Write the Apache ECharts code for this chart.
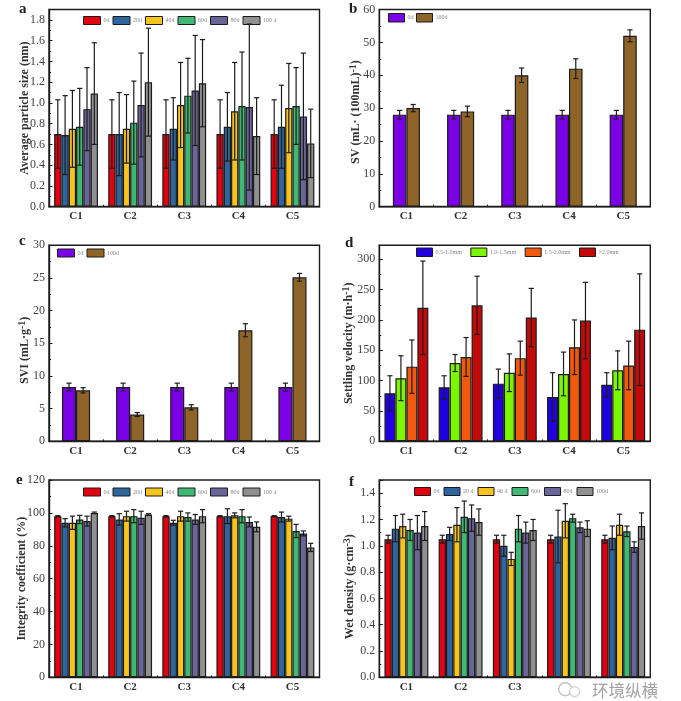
<!DOCTYPE html>
<html>
<head>
<meta charset="utf-8">
<title>Sludge properties</title>
<script src="https://cdn.jsdelivr.net/npm/echarts@6/dist/echarts.min.js"></script>
<style>
html,body{margin:0;padding:0;background:#fff;}
#chart{width:681px;height:701px;}
</style>
</head>
<body>
<div id="chart"></div>
<script>
const cats=['C1','C2','C3','C4','C5'];
// C4 and C5 of panel f are hidden under the watermark in the source
const catsF=['C1','C2','C3','',''];

// one row per series, one value per category
const aNames=['0d','20d','40d','60d','80d','100 d'];
const aMeans=[
    [0.70,0.70,0.70,0.70,0.70],
    [0.69,0.70,0.75,0.77,0.77],
    [0.75,0.75,0.98,0.92,0.95],
    [0.77,0.81,1.07,0.97,0.97],
    [0.94,0.98,1.12,0.96,0.87],
    [1.09,1.20,1.19,0.68,0.61]
];
const aErrs=[
    [0.33,0.33,0.33,0.33,0.33],
    [0.38,0.40,0.30,0.33,0.40],
    [0.37,0.33,0.41,0.47,0.43],
    [0.37,0.40,0.36,0.52,0.37],
    [0.40,0.50,0.53,0.80,0.61],
    [0.49,0.52,0.42,0.37,0.33]
];

const bNames=['0d','100d'];
const bMeans=[
    [28,28,28,28,28],
    [30,29,40,42,52]
];
const bErrs=[
    [1.3,1.3,1.3,1.3,1.3],
    [1.1,1.6,2.2,3,1.8]
];

const cNames=['0d','100d'];
const cMeans=[
    [8.3,8.3,8.3,8.3,8.3],
    [7.8,4.1,5.2,17,25.1]
];
const cErrs=[
    [0.6,0.6,0.6,0.6,0.6],
    [0.4,0.3,0.4,1.0,0.6]
];

const dNames=['0.5-1.0mm','1.0-1.5mm','1.5-2.0mm','>2.0mm'];
const dMeans=[
    [79,89,95,73,93],
    [104,129,113,111,117],
    [123,139,137,155,125],
    [220,224,204,199,184]
];
const dErrs=[
    [29,19,24,40,20],
    [37,14,31,36,32],
    [44,32,28,45,40],
    [77,48,48,63,92]
];

const eNames=['0d','20d','40d','60d','80d','100 d'];
const eMeans=[
    [98,98,98,98,98],
    [94,96,94,98,97.5],
    [94,98,98,98.5,96.5],
    [96,98,97.5,98,89],
    [95,97,96,94.5,87.5],
    [100,99,98,91.5,79]
];
const eErrs=[
    [0.3,0.3,0.3,0.3,0.3],
    [2.5,3.5,1.5,4.5,3],
    [4,3,3,1.5,1.5],
    [2.5,4,2.5,4,4],
    [3,4,3,3,1.5],
    [0.5,0.5,4,3,2.5]
];

const fNames=['0d','20 d','40 d','60d','80d','100d'];
const fMeans=[
    [1.05,1.05,1.05,1.05,1.05],
    [1.13,1.09,1.00,1.07,1.06],
    [1.15,1.16,0.90,1.19,1.16],
    [1.12,1.22,1.13,1.21,1.11],
    [1.10,1.21,1.10,1.14,0.99],
    [1.15,1.18,1.12,1.13,1.15]
];
const fErrs=[
    [0.03,0.03,0.03,0.03,0.03],
    [0.10,0.05,0.08,0.20,0.09],
    [0.09,0.13,0.05,0.13,0.08],
    [0.08,0.12,0.10,0.03,0.04],
    [0.13,0.10,0.08,0.04,0.04],
    [0.11,0.10,0.08,0.06,0.10]
];

const sixColors=['#e3000f','#2f659f','#f7c31e','#3fb873','#6a6599','#909090'];
const twoColors=['#7a00e6','#8f6428'];
const fourColors=['#2000e0','#7cf500','#f2590f','#c20a0a'];

const SERIF='"Liberation Serif","Times New Roman",serif';
const INK='#1c1c1c';

function yName(parts){
    return parts.map(p=>`{${p[0]}|${p[1]}}`).join('');
}

const panels=[
    {letter:'a',letterPos:[19,2],rect:[49,9.5,270.5,197.2],names:aNames,means:aMeans,errs:aErrs,colors:sixColors,
     cats:cats,max:1.9,interval:0.2,digits:1,gap:'19%',nameGap:17,nameShift:0,
     title:[['base','Average particle size (nm)']],
     legend:{left:83,top:16,itemWidth:17,itemHeight:8,itemGap:3}},
    {letter:'b',letterPos:[349,2],rect:[379.3,9.5,271,197.2],names:bNames,means:bMeans,errs:bErrs,colors:twoColors,
     cats:cats,max:60,interval:10,digits:0,gap:'50%',nameGap:15.5,nameShift:8,
     title:[['base','SV (mL· (100mL)'],['sup','-1'],['base',')']],
     legend:{left:388,top:13,itemWidth:16,itemHeight:8.5,itemGap:2.5}},
    {letter:'c',letterPos:[19,234],rect:[49,245.3,270.5,196],names:cNames,means:cMeans,errs:cErrs,colors:twoColors,
     cats:cats,max:30,interval:5,digits:0,gap:'48%',nameGap:17,nameShift:14,
     title:[['base','SVI (mL·g'],['sup','-1'],['base',')']],
     legend:{left:57,top:248.5,itemWidth:17,itemHeight:8,itemGap:3}},
    {letter:'d',letterPos:[345,236],rect:[379.3,245.3,271,196],names:dNames,means:dMeans,errs:dErrs,colors:fourColors,
     cats:cats,max:323,interval:50,digits:0,gap:'19%',nameGap:22.5,nameShift:0,
     title:[['base','Settling velocity (m·h'],['sup','-1'],['base',')']],
     legend:{left:416,top:247.5,itemWidth:16,itemHeight:8.5,itemGap:8.5}},
    {letter:'e',letterPos:[16,473],rect:[49,480,270.5,197.3],names:eNames,means:eMeans,errs:eErrs,colors:sixColors,
     cats:cats,max:120,interval:20,digits:0,gap:'19%',nameGap:19.5,nameShift:0,
     title:[['base','Integrity coefficient (%)']],
     legend:{left:83,top:487.5,itemWidth:17,itemHeight:8,itemGap:3}},
    {letter:'f',letterPos:[349,475],rect:[379.3,480,271,197.3],names:fNames,means:fMeans,errs:fErrs,colors:sixColors,
     cats:catsF,max:1.5,interval:0.2,digits:1,gap:'19%',nameGap:21.5,nameShift:16,
     title:[['base','Wet density (g·cm'],['sup','-3'],['base',')']],
     legend:{left:414,top:487,itemWidth:16,itemHeight:8,itemGap:4}}
];

function errorRender(seriesIndex,seriesCount,groupFrac){
    return function(params,api){
        const x=api.value(0);
        const mean=api.value(1);
        const err=api.value(2);
        const barW=api.size([1,0])[0]*groupFrac/seriesCount;
        const off=(seriesIndex-(seriesCount-1)/2)*barW;
        const top=api.coord([x,mean+err]);
        const bot=api.coord([x,mean-err]);
        const cx=top[0]+off;
        const cap=2.6;
        const style={stroke:INK,lineWidth:1.2,fill:null};
        return {type:'group',children:[
            {type:'line',shape:{x1:cx,y1:top[1],x2:cx,y2:bot[1]},style:style},
            {type:'line',shape:{x1:cx-cap,y1:top[1],x2:cx+cap,y2:top[1]},style:style},
            {type:'line',shape:{x1:cx-cap,y1:bot[1],x2:cx+cap,y2:bot[1]},style:style}
        ]};
    };
}

const option={
    backgroundColor:'#fff',
    animation:false,
    title:[],legend:[],grid:[],xAxis:[],yAxis:[],series:[]
};

panels.forEach((p,pi)=>{
    const groupFrac=1-parseFloat(p.gap)/100;
    option.title.push({
        text:p.letter,left:p.letterPos[0],top:p.letterPos[1],padding:0,
        textStyle:{fontFamily:SERIF,fontSize:15,fontWeight:'bold',color:INK}
    });
    option.grid.push({
        left:p.rect[0],top:p.rect[1],width:p.rect[2],height:p.rect[3],
        show:true,borderColor:INK,borderWidth:1.4,backgroundColor:'#fff',containLabel:false
    });
    option.xAxis.push({
        type:'category',gridIndex:pi,data:p.cats,
        axisLine:{lineStyle:{color:INK,width:1.4}},
        axisTick:{show:true,inside:true,length:2,lineStyle:{color:INK}},
        axisLabel:{fontFamily:SERIF,fontSize:11,fontWeight:'bold',color:'#333',margin:4,interval:0},
        splitLine:{show:false}
    });
    option.yAxis.push({
        type:'value',gridIndex:pi,min:0,max:p.max,interval:p.interval,
        name:yName(p.title),nameLocation:'middle',nameGap:p.nameGap,nameMoveOverlap:false,
        nameTextStyle:{
            fontFamily:SERIF,
            padding:[0,p.nameShift,0,0],
            rich:{
                base:{fontFamily:SERIF,fontSize:12,fontWeight:'bold',color:'#333',lineHeight:15},
                sup:{fontFamily:SERIF,fontSize:10,fontWeight:'bold',color:'#333',lineHeight:15,verticalAlign:'top'}
            }
        },
        axisLine:{show:true,lineStyle:{color:INK,width:1.4}},
        axisTick:{show:true,inside:true,length:3.5,lineStyle:{color:INK}},
        minorTick:{show:true,splitNumber:2,length:2,lineStyle:{color:INK}},
        splitLine:{show:false},
        axisLabel:{
            fontFamily:SERIF,fontSize:12,color:'#444',margin:4,showMaxLabel:p.max%p.interval===0,
            formatter:v=>v.toFixed(p.digits)
        }
    });
    option.legend.push(Object.assign({
        padding:0,selectedMode:false,icon:'rect',
        textStyle:{fontFamily:SERIF,fontSize:6,color:'#888',padding:[0,0,0,-2]},
        data:p.names.map((n,i)=>({
            name:n,icon:'rect',
            itemStyle:{color:p.colors[i],borderColor:INK,borderWidth:1}
        }))
    },p.legend));
    p.names.forEach((n,si)=>{
        option.series.push({
            name:n,type:'bar',xAxisIndex:pi,yAxisIndex:pi,
            data:p.means[si],barGap:0,barCategoryGap:p.gap,
            itemStyle:{color:p.colors[si],borderColor:INK,borderWidth:1.2}
        });
    });
    p.names.forEach((n,si)=>{
        option.series.push({
            type:'custom',xAxisIndex:pi,yAxisIndex:pi,z:5,clip:false,
            encode:{x:0,y:1},
            data:p.means[si].map((m,ci)=>[ci,m,p.errs[si][ci]]),
            renderItem:errorRender(si,p.names.length,groupFrac)
        });
    });
});

// watermark in the lower right corner
option.graphic=[
    {type:'circle',left:558,top:682,shape:{r:6.5},style:{fill:'#fff',stroke:'#c4c4c4',lineWidth:1.4},z:20},
    {type:'circle',left:569,top:686,shape:{r:5},style:{fill:'#fff',stroke:'#cfcfcf',lineWidth:1.2},z:21},
    {type:'text',left:592,top:682,z:20,style:{
        text:'环境纵横',fill:'#a3a3a3',font:'16.5px "Noto Sans CJK SC"'
    }}
];

const chart=echarts.init(document.getElementById('chart'));
chart.setOption(option);
</script>
</body>
</html>
